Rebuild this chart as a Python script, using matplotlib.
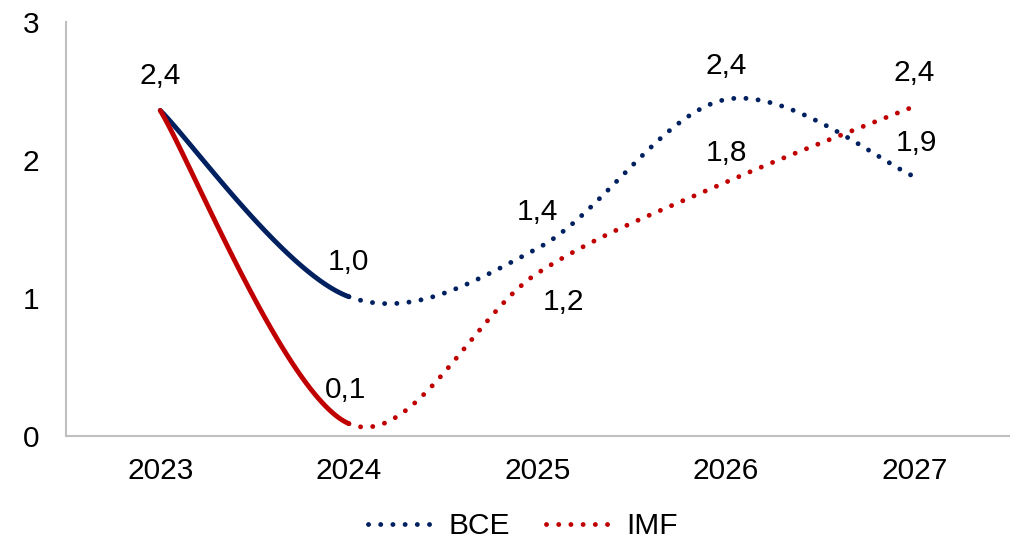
import matplotlib.pyplot as plt
import numpy as np

# dane
years = ["2023", "2024", "2025", "2026", "2027"]
bce = [2.36, 1.01, 1.36, 2.44, 1.88]
imf = [2.36, 0.09, 1.18, 1.84, 2.39]

NAVY = "#002060"
RED = "#C00000"
FS = 21.5
LW = 3.5

plt.rcParams['font.family'] = ['Liberation Sans', 'DejaVu Sans']


def smooth(ys, n=60):
    # wygladzona linia (krzywe Beziera jak w Excelu)
    xs = np.arange(len(ys), dtype=float)
    pts = np.column_stack([xs, np.array(ys, dtype=float)])
    ext = np.vstack([pts[0], pts, pts[-1]])
    segs = []
    t = np.linspace(0, 1, n)[:, None]
    for i in range(len(pts) - 1):
        p0, p1 = ext[i + 1], ext[i + 2]
        c1 = p0 + (ext[i + 2] - ext[i]) / 6
        c2 = p1 - (ext[i + 3] - ext[i + 1]) / 6
        seg = ((1 - t) ** 3) * p0 + 3 * ((1 - t) ** 2) * t * c1 \
            + 3 * (1 - t) * t ** 2 * c2 + t ** 3 * p1
        segs.append(seg)
    return segs


fig = plt.figure(figsize=(10.18, 5.41), dpi=100)
ax = fig.add_axes([0.0648, 0.194, 0.9262, 0.765])

dotted = (0, (0.01, 2.5))
for vals, col in [(bce, NAVY), (imf, RED)]:
    segs = smooth(vals)
    ax.plot(segs[0][:, 0], segs[0][:, 1], color=col, lw=LW,
            solid_capstyle='round')
    rest = np.vstack(segs[1:])
    ax.plot(rest[:, 0], rest[:, 1], color=col, lw=LW, linestyle=dotted,
            dash_capstyle='round')

# etykiety wartosci
def fmt(v):
    return f"{v:.1f}".replace('.', ',')

labels = [
    (0, bce[0], (0, 25)),
    (1, bce[1], (0, 25)),
    (2, bce[2], (0, 26)),
    (3, bce[3], (0, 24)),
    (4, bce[4], (1, 24)),
    (1, imf[1], (-2, 24)),
    (2, imf[2], (19, -21)),
    (3, imf[3], (0, 21)),
    (4, imf[4], (0, 24)),
]
for x, v, off in labels:
    ax.annotate(fmt(v), (x, v), xytext=off, textcoords='offset points',
                ha='center', va='center', fontsize=FS, color='black')

ax.set_xlim(-0.5, 4.5)
ax.set_ylim(0, 3)
ax.set_xticks(range(len(years)))
ax.set_xticklabels(years)
ax.set_yticks([0, 1, 2, 3])
ax.tick_params(length=0, labelsize=FS, colors='black')
ax.tick_params(axis='x', pad=15)
ax.tick_params(axis='y', pad=19)
for s in ['top', 'right']:
    ax.spines[s].set_visible(False)
for s in ['left', 'bottom']:
    ax.spines[s].set_color('#BFBFBF')
    ax.spines[s].set_linewidth(1.5)

h1, = ax.plot([], [], color=NAVY, lw=LW, linestyle=dotted, dash_capstyle='round')
h2, = ax.plot([], [], color=RED, lw=LW, linestyle=dotted, dash_capstyle='round')
fig.legend([h1, h2], ["BCE", "IMF"], loc='center', bbox_to_anchor=(0.514, 0.027),
           ncol=2, frameon=False, fontsize=FS, handlelength=2.1,
           columnspacing=1.2, handletextpad=0.6)

plt.savefig("out.png", dpi=100)
